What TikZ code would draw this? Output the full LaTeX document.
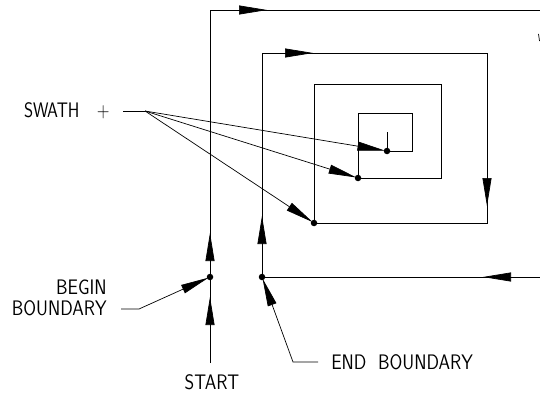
\documentclass[tikz,border=0pt]{standalone}
\usepackage{graphicx}
\usetikzlibrary{arrows.meta}

\newcommand{\cadtxt}[2][0.88]{\scalebox{#1}[1]{#2}}

\tikzset{
    tip/.style={-{Triangle[length=28pt,width=9pt]}},
    dot/.style={circle, fill, inner sep=0pt, minimum size=6.5pt},
    lbl/.style={font=\sffamily\fontsize{21}{24}\selectfont, inner sep=0pt},
}

\begin{document}
\begin{tikzpicture}[x=1pt, y=-1pt, line width=0.7pt]
    \useasboundingbox (0,0) rectangle (540,393);

    % spiral path of the swaths
    \draw (210,363) -- (210,10) -- (540,10);
    \draw (540,277) -- (262,277) -- (262,53) -- (487,53) -- (487,223) -- (314,223) -- (314,84)
        -- (441,84) -- (441,178) -- (358,178) -- (358,113) -- (412,113) -- (412,151) -- (387,151) -- (387,132);
    \draw (538.5,34) -- (539.5,41);

    % direction arrows
    \draw[tip] (210,326) -- (210,297);
    \draw[tip] (210,262) -- (210,233);
    \draw[tip] (237,10) -- (267,10);
    \draw[tip] (510,277) -- (483,277);
    \draw[tip] (262,243) -- (262,216);
    \draw[tip] (286,53) -- (313,53);
    \draw[tip] (487,178) -- (487,206);

    % points
    \node[dot] (beginpt) at (210,277) {};
    \node[dot] (endpt) at (262,277) {};
    \node[dot] (sw1) at (314,223) {};
    \node[dot] (sw2) at (358,178) {};
    \node[dot] (sw3) at (387,151) {};

    % labels
    \node[lbl, anchor=east] (swath) at (110,111) {\cadtxt[0.83]{SWATH\quad+}};
    \node[lbl, anchor=east] (begin) at (107,287) {\cadtxt{BEGIN}};
    \node[lbl, anchor=east] (bound) at (107,308) {\cadtxt{BOUNDARY}};
    \node[lbl, anchor=west] (endb) at (331,362) {\cadtxt{END\ \ BOUNDARY}};
    \node[lbl] (start) at (212,382) {\cadtxt{START}};

    % leaders
    \coordinate (swk) at (145,111);
    \draw (123,111) -- (swk);
    \draw[tip, shorten >=-2pt] (swk) -- (sw3);
    \draw[tip, shorten >=-2pt] (swk) -- (sw2);
    \draw[tip, shorten >=-2pt] (swk) -- (sw1);

    \coordinate (bk) at (139,309);
    \draw[tip, shorten >=-2pt] (121,309) -- (bk) -- (beginpt);

    \coordinate (ek) at (293,362);
    \draw[tip, shorten >=-2pt] (318,362) -- (ek) -- (endpt);
\end{tikzpicture}
\end{document}
